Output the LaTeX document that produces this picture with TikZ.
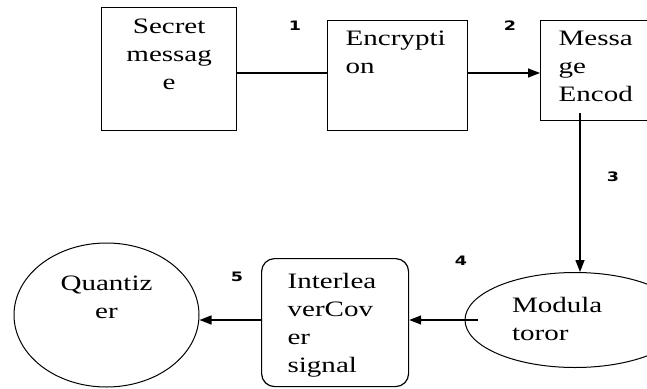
\documentclass[tikz,border=0pt]{standalone}
\usepackage{fontspec}
\usetikzlibrary{arrows.meta,shapes.geometric}
\newfontfamily\boxfnt[FakeStretch=1.32]{Liberation Serif}
\newfontfamily\numfnt[FakeStretch=1.35]{DejaVu Sans Bold}
\begin{document}
\begin{tikzpicture}[x=1pt,y=-1pt,
  txt/.style={font=\boxfnt\fontsize{22}{28}\selectfont, inner ysep=0pt},
  sqbox/.style={txt, draw, line width=1.3pt, anchor=north west, align=left},
  oval/.style={txt, draw, ellipse, line width=1pt, inner sep=0pt},
  num/.style={font=\numfnt\fontsize{13}{14}\selectfont, inner sep=0pt},
  conn/.style={line width=1.4pt},
  arr/.style={conn, -{Triangle[length=12pt,width=9pt]}}]
\clip (0,0) rectangle (647,388);
\fill[white] (0,0) rectangle (647,388);
% boxes
\node[sqbox, inner xsep=0pt, text width=135pt, align=center, text height=26pt, text depth=97pt] (secret) at (101,7) {Secret\\messag\\e};
\node[sqbox, inner xsep=18pt, text width=104pt, text height=25pt, text depth=85pt] (encryption) at (327,20) {Encrypti\\on};
\node[sqbox, inner xsep=18pt, text width=89pt, text height=25pt, text depth=75pt] (message) at (540,20) {Messa\\ge\\Encod};
\node[oval, minimum width=220pt, minimum height=95pt, text width=126pt, align=left, text height=15pt, text depth=31pt] (modulator) at (575,320) {Modula\\toror};
\node[sqbox, rounded corners=13pt, line width=1.2pt, inner xsep=26pt, text width=95pt, text height=30pt, text depth=98pt] (interleaver) at (261,258) {Interlea\\verCov\\er\\signal};
\node[oval, minimum width=185pt, minimum height=144pt, text width=120pt, align=center, text height=15pt, text depth=65pt] (quantizer) at (106.5,315) {Quantiz\\er};
% step numbers
\node[num] (n1) at (295,25.5) {1};
\node[num] (n2) at (510,26) {2};
\node[num] (n3) at (613,176.5) {3};
\node[num] (n4) at (461,261) {4};
\node[num] (n5) at (237,277) {5};
% connectors
\coordinate (row1) at (0,73);
\draw[conn] (secret.east |- row1) -- (encryption.west |- row1);
\draw[arr] (encryption.east |- row1) -- (message.west |- row1);
\coordinate (drop) at ([xshift=40pt,yshift=8pt]message.south west);
\draw[arr] (drop) -- (drop |- modulator.north);
\draw[arr] ([xshift=13pt]modulator.west) -- (interleaver.east |- modulator.west);
\draw[arr] (interleaver.west |- modulator.west) -- (quantizer.east |- modulator.west);
\end{tikzpicture}
\end{document}
